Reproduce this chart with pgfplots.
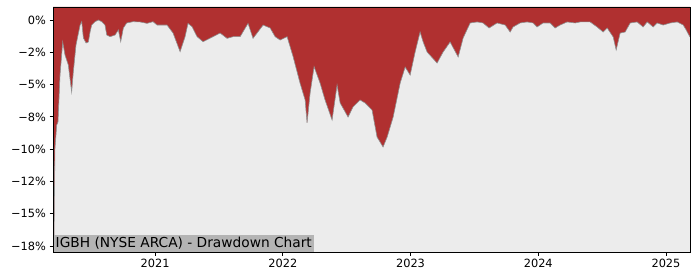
\documentclass[border=0pt]{standalone}
\usepackage{fontspec}
\setmainfont{DejaVu Sans}
\usepackage{pgfplots}
\pgfplotsset{compat=1.18}
\usepgfplotslibrary{fillbetween}
\definecolor{ddred}{HTML}{B03030}
\definecolor{bggray}{HTML}{ECECEC}
\definecolor{edgegray}{HTML}{909090}
\definecolor{boxgray}{HTML}{B4B4B4}
\begin{document}
\begin{tikzpicture}
\begin{axis}[
  scale only axis,
  width=637bp, height=245bp,
  xmin=2020.201, xmax=2025.188,
  ymin=-17.96, ymax=1.006,
  axis background/.style={fill=bggray},
  axis line style={black, line width=0.8pt},
  tick style={black, line width=0.8pt},
  tick align=outside,
  major tick length=3.5bp,
  xtick={2021,2022,2023,2024,2025},
  xticklabels={2021,2022,2023,2024,2025},
  ytick={-17.5,-15,-12.5,-10,-7.5,-5,-2.5,0},
  yticklabels={−18\%,−15\%,−12\%,−10\%,−8\%,−5\%,−2\%,0\%},
  ticklabel style={font=\fontsize{11.4}{13}\selectfont},
  xtick pos=bottom, ytick pos=left,
  axis on top,
]
\addplot[name path=dd, draw=edgegray, line width=0.6pt] table {
2020.201 -17.6
2020.209 -17.0
2020.216 -10.0
2020.230 -8.13
2020.240 -7.89
2020.256 -4.26
2020.277 -1.70
2020.295 -2.71
2020.321 -3.48
2020.347 -5.57
2020.360 -4.02
2020.381 -1.94
2020.413 -0.39
2020.426 -0.13
2020.439 -1.39
2020.460 -1.78
2020.478 -1.70
2020.491 -0.93
2020.504 -0.39
2020.530 -0.13
2020.556 0
2020.583 -0.13
2020.608 -0.39
2020.622 -1.16
2020.648 -1.29
2020.687 -1.16
2020.713 -0.77
2020.731 -1.68
2020.752 -0.62
2020.778 -0.23
2020.828 -0.13
2020.883 -0.15
2020.937 -0.26
2020.984 -0.13
2021.016 -0.39
2021.094 -0.39
2021.141 -1.01
2021.196 -2.45
2021.235 -1.29
2021.258 -0.26
2021.290 -0.52
2021.329 -1.29
2021.376 -1.68
2021.454 -1.29
2021.509 -1.01
2021.564 -1.42
2021.611 -1.29
2021.666 -1.29
2021.728 -0.26
2021.767 -1.42
2021.846 -0.39
2021.901 -0.62
2021.940 -1.29
2021.979 -1.55
2022.034 -1.29
2022.081 -2.84
2022.135 -4.88
2022.175 -6.19
2022.190 -7.97
2022.214 -5.65
2022.245 -3.61
2022.292 -4.88
2022.331 -6.19
2022.386 -7.74
2022.425 -5.03
2022.449 -6.42
2022.511 -7.51
2022.550 -6.73
2022.605 -6.19
2022.644 -6.42
2022.699 -6.97
2022.738 -9.06
2022.785 -9.83
2022.817 -9.06
2022.864 -7.51
2022.919 -4.88
2022.958 -3.64
2022.997 -4.26
2023.036 -2.48
2023.075 -0.93
2023.099 -1.70
2023.130 -2.48
2023.208 -3.33
2023.255 -2.48
2023.310 -1.70
2023.373 -2.86
2023.412 -1.39
2023.467 -0.23
2023.522 -0.15
2023.568 -0.23
2023.615 -0.62
2023.678 -0.23
2023.741 -0.39
2023.780 -0.93
2023.803 -0.54
2023.858 -0.23
2023.913 -0.15
2023.960 -0.23
2023.991 -0.54
2024.038 -0.23
2024.093 -0.23
2024.132 -0.62
2024.171 -0.39
2024.226 -0.15
2024.289 -0.23
2024.328 -0.15
2024.406 -0.15
2024.461 -0.54
2024.508 -0.93
2024.540 -0.62
2024.587 -1.32
2024.610 -2.32
2024.641 -1.01
2024.680 -0.93
2024.720 -0.23
2024.774 -0.15
2024.821 -0.54
2024.853 -0.15
2024.900 -0.54
2024.931 -0.23
2024.978 -0.39
2025.033 -0.23
2025.088 -0.15
2025.135 -0.39
2025.158 -0.77
2025.188 -1.32
};
\addplot[name path=top, draw=none] coordinates {(2020.201,1.006) (2025.188,1.006)};
\addplot[ddred] fill between[of=dd and top];
\node[anchor=south west, fill=boxgray, inner xsep=2.5bp, inner ysep=2.5bp, font=\fontsize{13.8}{15}\selectfont] at (rel axis cs:0,0) {IGBH (NYSE ARCA) - Drawdown Chart};
\end{axis}
\pgfresetboundingbox
\path[use as bounding box] (-53bp,-28bp) rectangle (647bp,252bp);
\end{tikzpicture}
\end{document}
